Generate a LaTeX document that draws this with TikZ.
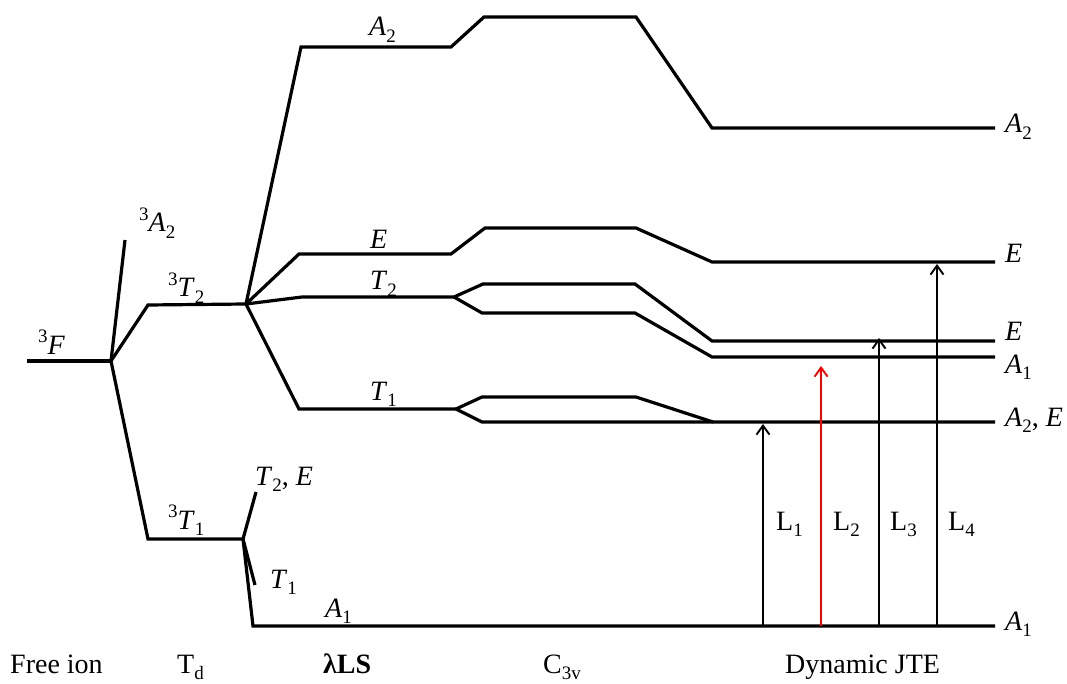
\documentclass[tikz,border=0pt]{standalone}
\usepackage{fontspec}
\setmainfont{Liberation Serif}
\usetikzlibrary{arrows.meta}
\newcommand\sbs[1]{\raisebox{-0.22em}{\fontsize{19}{20}\selectfont #1}}
\newcommand\sps[1]{\raisebox{0.42em}{\fontsize{19}{20}\selectfont #1}}
\newcommand\lv[2]{\textit{#1}\sbs{#2}}
\begin{document}
\begin{tikzpicture}[x=1pt,y=-1pt,
  lvl/.style={line width=3.2pt, line join=miter, line cap=butt},
  tr/.style={line width=1.9pt, -{Straight Barb[length=9pt,width=13pt]}},
  lab/.style={font=\fontsize{28}{30}\selectfont, inner sep=0pt, anchor=base west}]
\useasboundingbox (0,0) rectangle (1067,684);
% branch points
\coordinate (fi) at (111,361);
\coordinate (t2) at (246,304);
\coordinate (t1) at (243,539);
\coordinate (sT2) at (454,297);
\coordinate (sT1) at (456,409);
% free ion and Td
\draw[lvl] (27,361) -- (fi);
\draw[lvl] (fi) -- (125,240);
\draw[lvl] (fi) -- (148,305) -- (t2);
\draw[lvl] (fi) -- (148,539) -- (t1);
% lambda LS from 3T2
\draw[lvl] (t2) -- (301,47) -- (451,47) -- (484,17) -- (636,17) -- (712,128) -- (995,128);
\draw[lvl] (t2) -- (299,254) -- (451,254) -- (485,228) -- (636,228) -- (712,262) -- (995,262);
\draw[lvl] (t2) -- (302,297) -- (sT2);
\draw[lvl] (sT2) -- (483,284) -- (635,284) -- (712,341) -- (995,341);
\draw[lvl] (sT2) -- (482,313) -- (635,313) -- (712,357) -- (995,357);
\draw[lvl] (t2) -- (299,409) -- (sT1);
\draw[lvl] (sT1) -- (482,397) -- (636,397) -- (713,422);
\draw[lvl] (sT1) -- (482,422) -- (995,422);
% from 3T1
\draw[lvl] (t1) -- (256,492);
\draw[lvl] (t1) -- (255,585);
\draw[lvl] (t1) -- (253,626) -- (995,626);
% transitions
\coordinate (b1) at (763,626); \coordinate (e1) at (763,424);
\coordinate (b2) at (821,626); \coordinate (e2) at (821,366);
\coordinate (b3) at (879,626); \coordinate (e3) at (879,338);
\coordinate (b4) at (937,626); \coordinate (e4) at (937,264);
\draw[tr] (b1) -- (e1);
\draw[tr, red] (b2) -- (e2);
\draw[tr] (b3) -- (e3);
\draw[tr] (b4) -- (e4);
% labels
\node[lab] (lF) at (38,354) {\sps{3}\textit{F}};
\node[lab] (lA2t) at (139,232) {\sps{3}\lv{A}{2}};
\node[lab] (lT2t) at (168,297) {\sps{3}\lv{T}{2}};
\node[lab] (lT1t) at (168,529) {\sps{3}\lv{T}{1}};
\node[lab] (lA2) at (369,36) {\lv{A}{2}};
\node[lab] (lE) at (370,249) {\textit{E}};
\node[lab] (lT2) at (370,290) {\lv{T}{2}};
\node[lab] (lT1) at (370,400) {\lv{T}{1}};
\node[lab] (lT2E) at (255,485) {\lv{T}{2}, \textit{E}};
\node[lab] (lT1s) at (270,588) {\lv{T}{1}};
\node[lab] (lA1) at (325,617) {\lv{A}{1}};
\node[lab] (rA2) at (1005,133) {\lv{A}{2}};
\node[lab] (rE1) at (1005,263) {\textit{E}};
\node[lab] (rE2) at (1005,340) {\textit{E}};
\node[lab] (rA1) at (1005,373) {\lv{A}{1}};
\node[lab] (rA2E) at (1005,426) {\lv{A}{2}, \textit{E}};
\node[lab] (rA1b) at (1005,630) {\lv{A}{1}};
\node[lab] (L1) at (776,530) {L\sbs{1}};
\node[lab] (L2) at (833,530) {L\sbs{2}};
\node[lab] (L3) at (890,530) {L\sbs{3}};
\node[lab] (L4) at (948,530) {L\sbs{4}};
\node[lab] (x1) at (10,673) {Free ion};
\node[lab] (x2) at (177,673) {T\sbs{d}};
\node[lab] (x3) at (323,673) {\textbf{λLS}};
\node[lab] (x4) at (543,673) {C\sbs{3v}};
\node[lab] (x5) at (785,673) {Dynamic JTE};
\end{tikzpicture}
\end{document}
